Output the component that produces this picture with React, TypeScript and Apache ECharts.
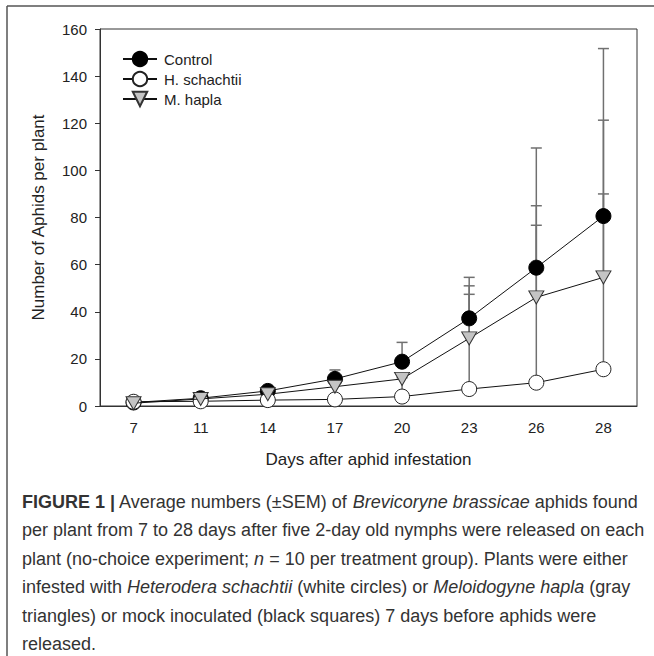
import React, { useEffect, useRef } from "react";
import * as echarts from "echarts";

const days = ["7", "11", "14", "17", "20", "23", "26", "28"];
const controlMean = [1.5, 3.3, 6.4, 11.5, 18.8, 37.2, 58.7, 80.6];
const controlSem = [0.3, 0.5, 1.0, 3.8, 8.2, 17.4, 50.8, 71.1];
const hsMean = [1.8, 2.0, 2.5, 2.8, 4.0, 7.2, 9.9, 15.6];
const hsSem = [0.3, 0.4, 0.5, 0.8, 8.0, 40.2, 66.8, 74.4];
const mhMean = [1.2, 3.0, 5.0, 8.2, 11.5, 28.7, 46.1, 54.6];
const mhSem = [0.3, 0.6, 1.0, 1.5, 2.1, 22.3, 38.9, 66.7];
const seriesNames = ["Control", "H. schachtii", "M. hapla"];
const yTicks = { min: 0, max: 160, interval: 20 };

const captionLines = [
  "{b|FIGURE 1 |} Average numbers (±SEM) of {i|Brevicoryne brassicae} aphids found",
  "per plant from 7 to 28 days after five 2-day old nymphs were released on each",
  "plant (no-choice experiment; {i|n} = 10 per treatment group). Plants were either",
  "infested with {i|Heterodera schachtii} (white circles) or {i|Meloidogyne hapla} (gray",
  "triangles) or mock inoculated (black squares) 7 days before aphids were",
  "released.",
];

const FONT = "'Liberation Sans', Arial, sans-serif";
const TRI = "path://M0,0L20,0L10,17Z";

function errData(mean: number[], sem: number[]) {
  return mean.map((m, i) => [i, m, m + sem[i]]);
}

export default function App() {
  const ref = useRef<HTMLDivElement>(null);
  useEffect(() => {
    const chart = echarts.init(ref.current!, undefined, { renderer: "svg" });
    const errRender = (params: any, api: any) => {
      const p1 = api.coord([api.value(0), api.value(1)]);
      const p2 = api.coord([api.value(0), api.value(2)]);
      const st = { stroke: "#707070", lineWidth: 1.5 };
      return {
        type: "group",
        children: [
          { type: "line", shape: { x1: p1[0], y1: p1[1], x2: p2[0], y2: p2[1] }, style: st },
          { type: "line", shape: { x1: p2[0] - 5.5, y1: p2[1], x2: p2[0] + 5.5, y2: p2[1] }, style: st },
        ],
      };
    };
    const errSeries = (name: string, mean: number[], sem: number[]) => ({
      type: "custom",
      name: name + " SEM",
      renderItem: errRender,
      data: errData(mean, sem),
      encode: { x: 0, y: [1, 2] },
      z: 1,
      silent: true,
    });
    const lineStyle = { color: "#111", width: 1 };
    const caption = captionLines.map((t, i) => ({
      type: "text",
      left: 22,
      top: 493 + i * 28.4,
      style: {
        text: t,
        fontSize: 18,
        fontFamily: FONT,
        fill: "#333",
        rich: {
          b: { fontSize: 18, fontFamily: FONT, fontWeight: "bold", fill: "#333" },
          i: { fontSize: 18, fontFamily: FONT, fontStyle: "italic", fill: "#333" },
        },
      },
    }));
    chart.setOption({
      animation: false,
      backgroundColor: "#fff",
      grid: {
        left: 100,
        right: 17,
        top: 29,
        bottom: 250,
        show: true,
        borderColor: "#333",
        borderWidth: 1,
        backgroundColor: "transparent",
      },
      legend: {
        orient: "vertical",
        left: 122,
        top: 50,
        padding: 0,
        itemWidth: 34,
        itemHeight: 18,
        itemGap: 2,
        data: seriesNames,
        textStyle: {
          fontSize: 15,
          lineHeight: 18,
          fontFamily: FONT,
          color: "#222",
          padding: [0, 0, 0, 2],
        },
      },
      xAxis: {
        type: "category",
        data: days,
        boundaryGap: true,
        axisLine: { lineStyle: { color: "#333", width: 1 } },
        axisTick: { alignWithLabel: true, length: 5, lineStyle: { color: "#333" } },
        axisLabel: { fontSize: 15, fontFamily: FONT, color: "#222", margin: 14 },
        name: "Days after aphid infestation",
        nameLocation: "middle",
        nameGap: 45,
        nameTextStyle: { fontSize: 17, fontFamily: FONT, color: "#222" },
      },
      yAxis: {
        type: "value",
        min: yTicks.min,
        max: yTicks.max,
        interval: yTicks.interval,
        splitLine: { show: false },
        axisLine: { show: true, lineStyle: { color: "#333", width: 1 } },
        axisTick: { show: true, length: 5, lineStyle: { color: "#333" } },
        axisLabel: { fontSize: 15, fontFamily: FONT, color: "#222", margin: 13 },
        name: "Number of Aphids per plant",
        nameLocation: "middle",
        nameGap: 53,
        nameTextStyle: { fontSize: 17, fontFamily: FONT, color: "#222" },
      },
      graphic: [
        { type: "line", shape: { x1: 7, y1: 6, x2: 654, y2: 6 }, style: { stroke: "#555", lineWidth: 1.5 } },
        { type: "line", shape: { x1: 7, y1: 6, x2: 7, y2: 656 }, style: { stroke: "#555", lineWidth: 1.5 } },
        ...caption,
      ],
      series: [
        errSeries("Control", controlMean, controlSem),
        errSeries("H. schachtii", hsMean, hsSem),
        errSeries("M. hapla", mhMean, mhSem),
        {
          type: "line",
          name: "Control",
          data: controlMean,
          symbol: "circle",
          symbolSize: 15,
          z: 3,
          lineStyle,
          itemStyle: { color: "#000", borderColor: "#000", borderWidth: 1 },
        },
        {
          type: "line",
          name: "H. schachtii",
          data: hsMean,
          symbol: "circle",
          symbolSize: 15,
          z: 4,
          lineStyle,
          itemStyle: { color: "#fff", borderColor: "#222", borderWidth: 1 },
        },
        {
          type: "line",
          name: "M. hapla",
          data: mhMean,
          symbol: TRI,
          symbolSize: [15, 13],
          z: 5,
          lineStyle,
          itemStyle: { color: "#c4c4c4", borderColor: "#333", borderWidth: 1 },
        },
      ],
    });
    return () => chart.dispose();
  }, []);
  return (
    <div
      ref={ref}
      style={{ position: "fixed", left: 0, top: 0, width: 654, height: 656, background: "#fff" }}
    />
  );
}
